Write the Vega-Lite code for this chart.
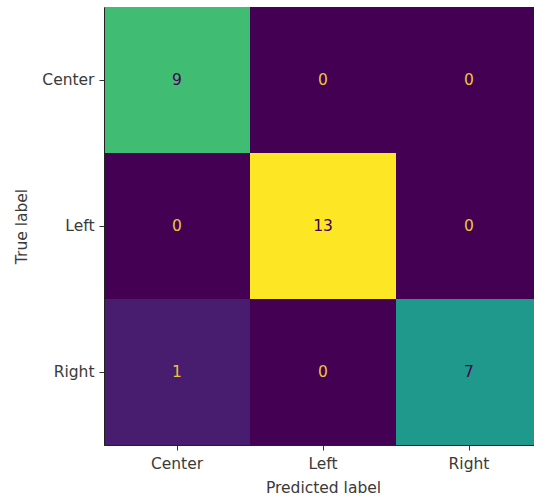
{
  "$schema": "https://vega.github.io/schema/vega-lite/v6.json",
  "autosize": {"type": "none"},
  "padding": {"left": 104, "top": 7, "right": 0, "bottom": 51},
  "width": 438,
  "height": 438,
  "background": "white",
  "config": {
    "font": "DejaVu Sans",
    "view": {"stroke": "#222222", "strokeWidth": 1}
  },
  "data": {
    "values": [
      {"true_label": "Center", "predicted": "Center", "count": 9},
      {"true_label": "Center", "predicted": "Left", "count": 0},
      {"true_label": "Center", "predicted": "Right", "count": 0},
      {"true_label": "Left", "predicted": "Center", "count": 0},
      {"true_label": "Left", "predicted": "Left", "count": 13},
      {"true_label": "Left", "predicted": "Right", "count": 0},
      {"true_label": "Right", "predicted": "Center", "count": 1},
      {"true_label": "Right", "predicted": "Left", "count": 0},
      {"true_label": "Right", "predicted": "Right", "count": 7}
    ]
  },
  "encoding": {
    "x": {
      "field": "predicted",
      "type": "nominal",
      "sort": ["Center", "Left", "Right"],
      "scale": {"paddingInner": 0, "paddingOuter": 0},
      "axis": {
        "title": "Predicted label",
        "labelAngle": 0,
        "labelFontSize": 15.5,
        "labelColor": "#3a3a3a",
        "titleFontSize": 15.5,
        "titleFontWeight": "normal",
        "titleColor": "#3a3a3a",
        "titlePadding": 9,
        "labelPadding": 6,
        "tickSize": 5,
        "tickColor": "#333333",
        "domainColor": "#222222",
        "grid": false
      }
    },
    "y": {
      "field": "true_label",
      "type": "nominal",
      "sort": ["Center", "Left", "Right"],
      "scale": {"paddingInner": 0, "paddingOuter": 0},
      "axis": {
        "title": "True label",
        "labelFontSize": 15.5,
        "labelColor": "#3a3a3a",
        "titleFontSize": 15.5,
        "titleFontWeight": "normal",
        "titleColor": "#3a3a3a",
        "titlePadding": 12,
        "labelPadding": 5,
        "tickSize": 5,
        "tickColor": "#333333",
        "domainColor": "#222222",
        "grid": false
      }
    }
  },
  "layer": [
    {
      "mark": {"type": "rect"},
      "encoding": {
        "color": {
          "field": "count",
          "type": "quantitative",
          "scale": {"scheme": "viridis", "domain": [0, 13]},
          "legend": null
        }
      }
    },
    {
      "mark": {"type": "text", "fontSize": 15.5},
      "encoding": {
        "text": {"field": "count", "type": "quantitative"},
        "color": {
          "condition": {"test": "datum.count >= 6.5", "value": "#440154"},
          "value": "#e9c53a"
        }
      }
    }
  ]
}
